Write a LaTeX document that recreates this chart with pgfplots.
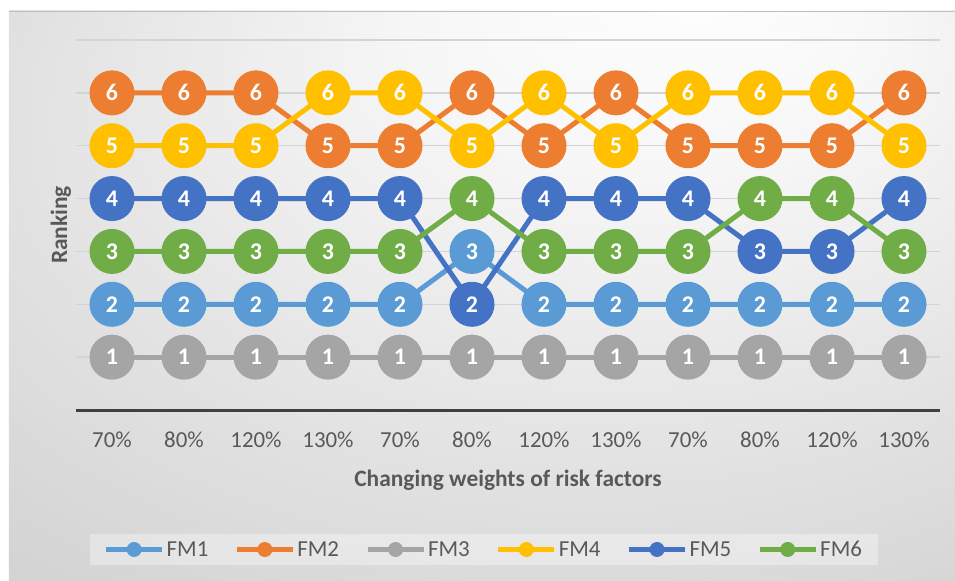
\documentclass[border=0pt]{standalone}
\usepackage{pgfplots}
\pgfplotsset{compat=1.18}
\usepackage{fontspec}
\setmainfont{Carlito}

\definecolor{fmA}{HTML}{5B9BD5}
\definecolor{fmB}{HTML}{ED7D31}
\definecolor{fmC}{HTML}{A5A5A5}
\definecolor{fmD}{HTML}{FFC000}
\definecolor{fmE}{HTML}{4472C4}
\definecolor{fmF}{HTML}{70AD47}
\definecolor{txt}{HTML}{595959}
\definecolor{gridc}{HTML}{D4D4D4}
\definecolor{axisc}{HTML}{404040}

\pgfdeclareradialshading{bgshade}{\pgfpoint{12bp}{30bp}}{%
  color(0bp)=(white); color(12bp)=(white!97!black); color(45bp)=(white!82!black); color(60bp)=(white!78!black)}

\begin{document}
\begin{tikzpicture}
% page and chart area (1px = 1bp, origin at the axis' lower left corner)
\fill[white] (-76bp,-171bp) rectangle (879bp,410bp);
\shade[shading=bgshade] (-67bp,-171bp) rectangle (879bp,399bp);
\draw[white!75!black, line width=0.8bp] (-67bp,399bp) -- (879bp,399bp);
\begin{axis}[
    at={(0,0)}, anchor=south west,
    scale only axis,
    width=864bp, height=370bp,
    xmin=-0.5, xmax=11.5,
    ymin=0, ymax=7,
    clip=false,
    axis line style={draw=none},
    major tick length=0pt,
    xtick={0,...,11},
    xticklabels={70\%,80\%,120\%,130\%,70\%,80\%,120\%,130\%,70\%,80\%,120\%,130\%},
    xticklabel style={anchor=center, yshift=-30bp, text=txt, font=\fontsize{23}{27}\selectfont},
    ytick={1,...,7},
    yticklabels={},
    ymajorgrids,
    grid style={draw=gridc, line width=1.5bp},
    extra y ticks={0},
    extra y tick labels={},
    extra y tick style={grid style={draw=axisc, line width=3bp}},
    xlabel={Changing weights of risk factors},
    xlabel style={at={(axis description cs:0.5,0)}, anchor=center, yshift=-70bp,
                  text=txt, font=\bfseries\fontsize{23.5}{27}\selectfont},
    ylabel={Ranking},
    ylabel style={at={(axis description cs:0,0.5)}, anchor=center, yshift=15bp,
                  text=txt, font=\bfseries\fontsize{23.5}{27}\selectfont},
    /pgf/number format/assume math mode=true,
    every axis plot/.append style={line width=5bp, mark=*, mark size=20bp,
        mark options={solid}},
    nodes near coords,
    nodes near coords align={center},
    every node near coord/.append style={anchor=center, text=white,
        font=\bfseries\fontsize{24}{28}\selectfont},
    legend columns=6,
    legend image code/.code={%
        \draw[#1, mark=none, line width=5bp, draw opacity=1] (0bp,0bp) -- (56bp,0bp);
        \fill[#1, fill opacity=1, draw=none] (28bp,0bp) circle (7.5bp);},
    legend style={at={(0.472,-0.377)}, anchor=center, draw=none,
        fill=white, fill opacity=0.35, text opacity=1,
        text=txt, font=\fontsize{23}{27}\selectfont,
        inner xsep=14bp, inner ysep=5bp,
        /tikz/every even column/.append style={column sep=24bp}},
]
\addplot[color=fmA] coordinates {(0,2)(1,2)(2,2)(3,2)(4,2)(5,3)(6,2)(7,2)(8,2)(9,2)(10,2)(11,2)};
\addlegendentry{FM1}
\addplot[color=fmB] coordinates {(0,6)(1,6)(2,6)(3,5)(4,5)(5,6)(6,5)(7,6)(8,5)(9,5)(10,5)(11,6)};
\addlegendentry{FM2}
\addplot[color=fmC] coordinates {(0,1)(1,1)(2,1)(3,1)(4,1)(5,1)(6,1)(7,1)(8,1)(9,1)(10,1)(11,1)};
\addlegendentry{FM3}
\addplot[color=fmD] coordinates {(0,5)(1,5)(2,5)(3,6)(4,6)(5,5)(6,6)(7,5)(8,6)(9,6)(10,6)(11,5)};
\addlegendentry{FM4}
\addplot[color=fmE] coordinates {(0,4)(1,4)(2,4)(3,4)(4,4)(5,2)(6,4)(7,4)(8,4)(9,3)(10,3)(11,4)};
\addlegendentry{FM5}
\addplot[color=fmF] coordinates {(0,3)(1,3)(2,3)(3,3)(4,3)(5,4)(6,3)(7,3)(8,3)(9,4)(10,4)(11,3)};
\addlegendentry{FM6}
\end{axis}
\pgfresetboundingbox
\useasboundingbox (-76bp,-171bp) rectangle (879bp,410bp);
\end{tikzpicture}
\end{document}
